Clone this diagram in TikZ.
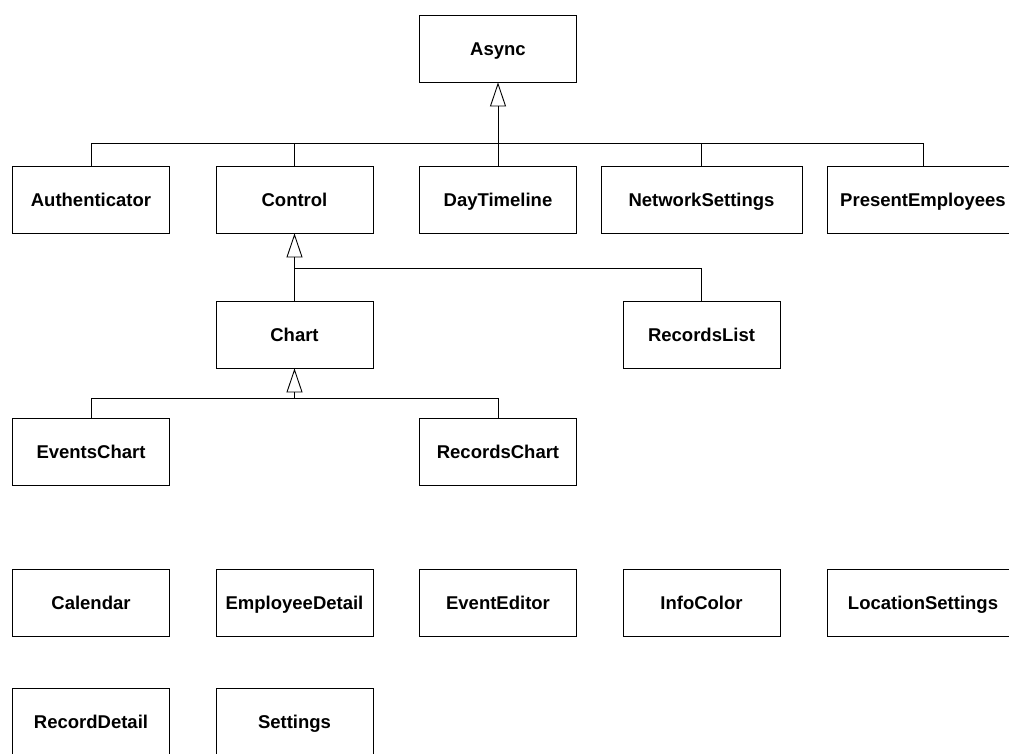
\documentclass[tikz,border=0pt]{standalone}
\usepackage{fontspec}
\setmainfont{Liberation Sans}
\usetikzlibrary{arrows.meta}
\tikzset{
  cls/.style={draw, line width=0.9pt, minimum height=67pt, minimum width=157pt, inner sep=0pt,
    text height=13.2pt, text depth=0pt,
    font=\bfseries\fontsize{18.5}{22}\selectfont},
  conn/.style={line width=0.9pt},
  inh/.style={conn, -{Triangle[open, length=24pt, width=16pt]}}
}
\begin{document}
\begin{tikzpicture}[x=1pt, y=-1pt]
\useasboundingbox (0,0) rectangle (1009,754);
\clip (0,0) rectangle (1009,754);
% classes
\node[cls] (async) at (498,48.5) {Async};
\node[cls] (auth) at (91,199.5) {Authenticator};
\node[cls] (ctrl) at (294.5,199.5) {Control};
\node[cls] (dt) at (498,199.5) {DayTimeline};
\node[cls, minimum width=201pt] (ns) at (701.5,199.5) {NetworkSettings};
\node[cls, minimum width=192pt] (pe) at (923,199.5) {PresentEmployees};
\node[cls] (chart) at (294.5,334.5) {Chart};
\node[cls] (rl) at (701.5,334.5) {RecordsList};
\node[cls] (ec) at (91,452) {EventsChart};
\node[cls] (rc) at (498,452) {RecordsChart};
\node[cls] (cal) at (91,603) {Calendar};
\node[cls] (emp) at (294.5,603) {EmployeeDetail};
\node[cls] (ee) at (498,603) {EventEditor};
\node[cls] (ic) at (701.5,603) {InfoColor};
\node[cls, minimum width=192pt] (ls) at (923,603) {LocationSettings};
\node[cls] (rd) at (91,722) {RecordDetail};
\node[cls] (set) at (294.5,722) {Settings};
% bus levels
\coordinate (b1) at (0,143);
\coordinate (b2) at (0,268);
\coordinate (b3) at (0,398);
% generalisations from Async
\draw[inh] (dt.north) -- (async.south);
\draw[conn] (auth.north) -- (auth.north |- b1) -- (pe.north |- b1) -- (pe.north);
\draw[conn] (ctrl.north) -- (ctrl.north |- b1);
\draw[conn] (ns.north) -- (ns.north |- b1);
% generalisations from Control
\draw[inh] (chart.north) -- (ctrl.south);
\draw[conn] (chart.north |- b2) -- (rl.north |- b2) -- (rl.north);
% generalisations from Chart
\draw[inh] (chart.south |- b3) -- (chart.south);
\draw[conn] (ec.north) -- (ec.north |- b3) -- (rc.north |- b3) -- (rc.north);
\end{tikzpicture}
\end{document}
